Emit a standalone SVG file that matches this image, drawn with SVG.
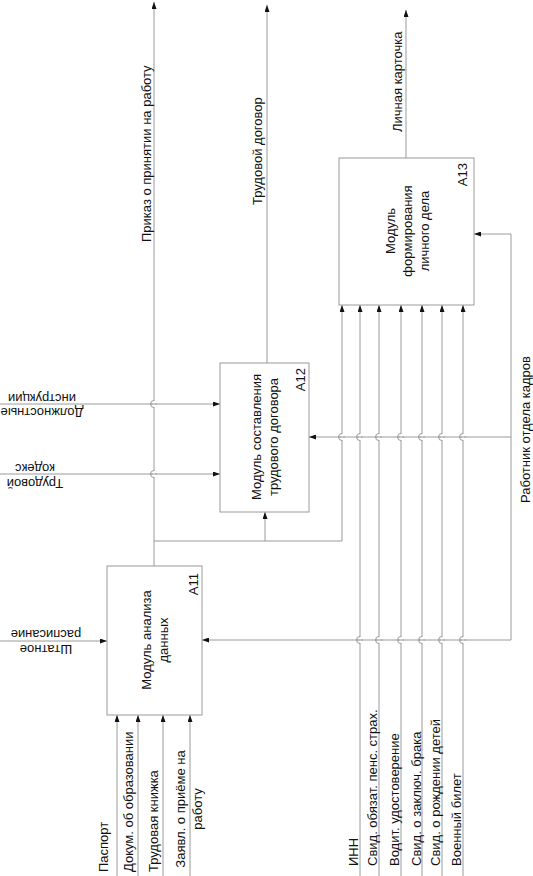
<svg xmlns="http://www.w3.org/2000/svg" width="533" height="876" viewBox="0 0 533 876">
<style>
text{font-family:"Liberation Sans",Arial,sans-serif;font-size:13px;fill:#111}
.box{fill:#fff;stroke:#9a9a9a;stroke-width:1}
.ln{fill:none;stroke:#9a9a9a;stroke-width:1}
.ar{marker-end:url(#ah)}
.jp{fill:none;stroke:#9a9a9a;stroke-width:1}
.gap{stroke:#fff;stroke-width:2.5}
</style>
<defs>
<marker id="ah" viewBox="0 0 7 5" refX="7" refY="2.5" markerWidth="7" markerHeight="5" markerUnits="userSpaceOnUse" orient="auto"><path d="M0,0 L7,2.5 L0,5 z" fill="#111"/></marker>
<g id="jump"><path class="gap" d="M0,-3 V3"/><path class="jp" d="M-3,0 H3"/><path class="jp" d="M0,-3.5 A3.5,3.5 0 0,0 0,3.5"/></g>
</defs>
<rect width="533" height="876" fill="#fff"/>
<g id="connectors">
<path class="ln ar" d="M154,566 V2"/>
<path class="ln ar" d="M154,541 H342 V305"/>
<path class="ln ar" d="M265,541 V512"/>
<path class="ln ar" d="M267,363 V5"/>
<path class="ln ar" d="M406,158 V10"/>
<path class="ln ar" d="M511,640 V234 H474"/>
<path class="ln ar" d="M511,437 H309"/>
<path class="ln ar" d="M511,640 H202"/>
<path class="ln ar" d="M360,876 V305"/>
<path class="ln ar" d="M379,876 V305"/>
<path class="ln ar" d="M401,876 V305"/>
<path class="ln ar" d="M422,876 V305"/>
<path class="ln ar" d="M442,876 V305"/>
<path class="ln ar" d="M463,876 V305"/>
<path class="ln ar" d="M117,876 V715"/>
<path class="ln ar" d="M138,876 V715"/>
<path class="ln ar" d="M163,876 V715"/>
<path class="ln ar" d="M190,876 V715"/>
<path class="ln ar" d="M0,404 H220"/>
<path class="ln ar" d="M0,474 H220"/>
<path class="ln ar" d="M0,641 H107"/>
<g id="jumps">
<use href="#jump" x="154" y="404"/>
<use href="#jump" x="154" y="474"/>
<use href="#jump" x="342" y="437"/>
<use href="#jump" x="360" y="437"/>
<use href="#jump" x="379" y="437"/>
<use href="#jump" x="401" y="437"/>
<use href="#jump" x="422" y="437"/>
<use href="#jump" x="442" y="437"/>
<use href="#jump" x="463" y="437"/>
<use href="#jump" x="360" y="640"/>
<use href="#jump" x="379" y="640"/>
<use href="#jump" x="401" y="640"/>
<use href="#jump" x="422" y="640"/>
<use href="#jump" x="442" y="640"/>
<use href="#jump" x="463" y="640"/>
</g>
<g id="labels">
<text transform="translate(151,242) rotate(-90)">Приказ о принятии на работу</text>
<text transform="translate(262,205) rotate(-90)">Трудовой договор</text>
<text transform="translate(402,132) rotate(-90)">Личная карточка</text>
<text transform="translate(530,503) rotate(-90)">Работник отдела кадров</text>
<text transform="translate(108,872) rotate(-90)">Паспорт</text>
<text transform="translate(133,872) rotate(-90)">Докум. об образовании</text>
<text transform="translate(158,872) rotate(-90)">Трудовая книжка</text>
<text transform="translate(185,809) rotate(-90)" text-anchor="middle"><tspan x="0" y="0">Заявл. о приёме на</tspan><tspan x="0" y="17">работу</tspan></text>
<text transform="translate(358,866) rotate(-90)">ИНН</text>
<text transform="translate(377,866) rotate(-90)">Свид. обязат. пенс. страх.</text>
<text transform="translate(399,866) rotate(-90)">Водит. удостоверение</text>
<text transform="translate(421,866) rotate(-90)">Свид. о заключ. брака</text>
<text transform="translate(440,866) rotate(-90)">Свид. о рождении детей</text>
<text transform="translate(461,866) rotate(-90)">Военный билет</text>
<text transform="translate(42,408) rotate(180)" text-anchor="middle"><tspan x="0" y="0">Должностные</tspan><tspan x="0" y="14">инструкции</tspan></text>
<text transform="translate(35,479) rotate(180)" text-anchor="middle"><tspan x="0" y="0">Трудовой</tspan><tspan x="0" y="15">кодекс</tspan></text>
<text transform="translate(46,645) rotate(180)" text-anchor="middle"><tspan x="0" y="0">Штатное</tspan><tspan x="0" y="15">расписание</tspan></text>
</g>
</g>
<g id="A11">
<rect class="box" x="107" y="566" width="95" height="149"/>
<text transform="translate(151,640) rotate(-90)" text-anchor="middle"><tspan x="0" y="0">Модуль анализа</tspan><tspan x="0" y="17">данных</tspan></text>
<text transform="translate(198,573) rotate(-90)" text-anchor="end">A11</text>
</g>
<g id="A12">
<rect class="box" x="220" y="363" width="89" height="149"/>
<text transform="translate(261,437) rotate(-90)" text-anchor="middle"><tspan x="0" y="0">Модуль составления</tspan><tspan x="0" y="17">трудового договора</tspan></text>
<text transform="translate(305,368) rotate(-90)" text-anchor="end">A12</text>
</g>
<g id="A13">
<rect class="box" x="339" y="158" width="135" height="147"/>
<text transform="translate(395,231) rotate(-90)" text-anchor="middle"><tspan x="0" y="0">Модуль</tspan><tspan x="0" y="17">формирования</tspan><tspan x="0" y="34">личного дела</tspan></text>
<text transform="translate(467,163) rotate(-90)" text-anchor="end">A13</text>
</g>
</svg>
